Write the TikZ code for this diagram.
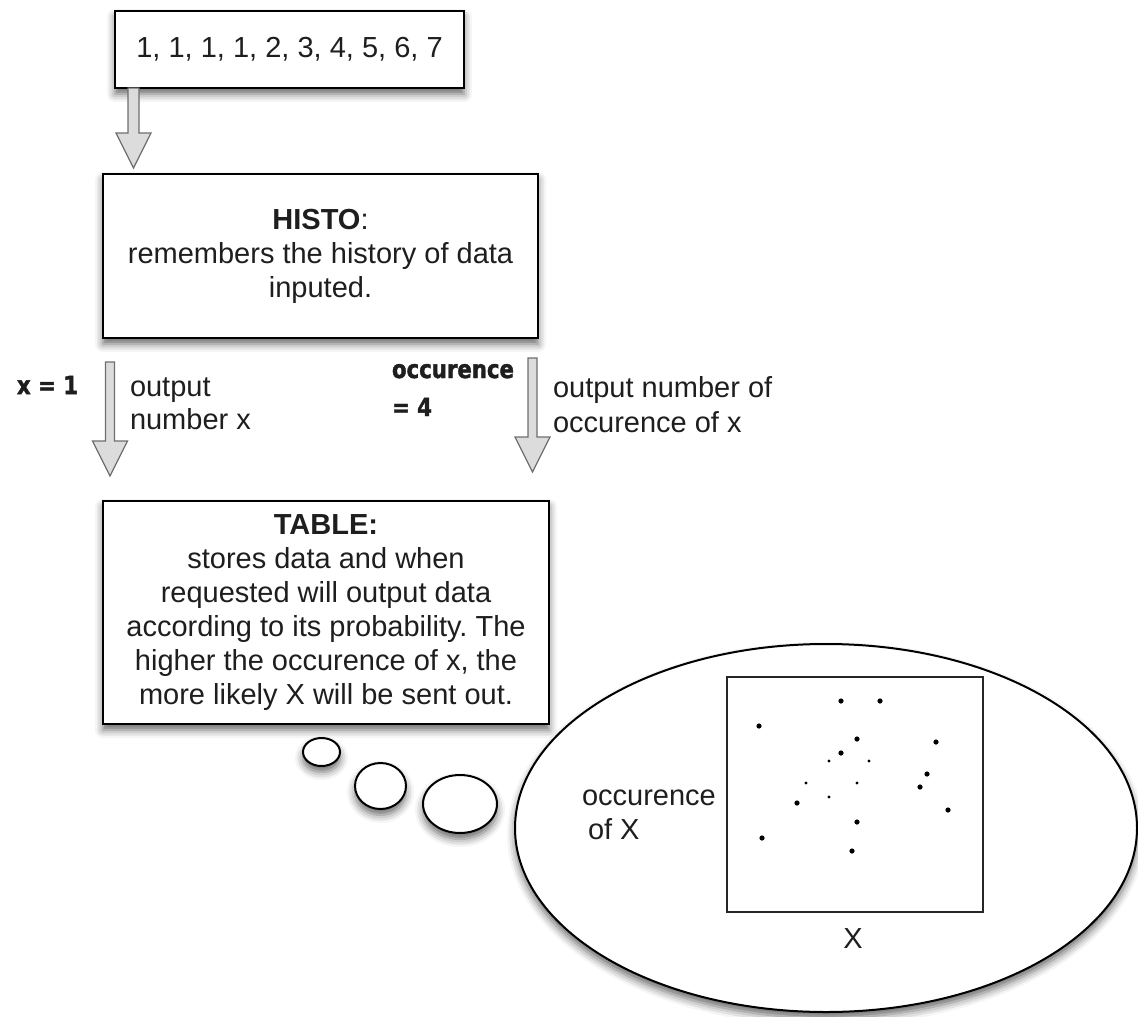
\documentclass[tikz,border=0pt]{standalone}
\usepackage{fontspec}
\setmainfont{Liberation Sans}
\newfontfamily\heavyfont[FakeStretch=0.85,FakeBold=1.6]{DejaVu Sans}
\usetikzlibrary{calc,shapes.geometric,shadows.blur}

\definecolor{inkcol}{HTML}{1E1E1E}
\definecolor{arrowline}{HTML}{6E6E6E}
\definecolor{arrowfill}{HTML}{DCDCDC}

\begin{document}
\frenchspacing
\begin{tikzpicture}[x=1pt,y=-1pt,
  every node/.style={text=inkcol, inner sep=0pt, outer sep=0pt},
  body/.style={font=\fontsize{29}{34}\selectfont},
  heavy/.style={font=\heavyfont\bfseries\fontsize{25}{38}\selectfont},
  softshadow/.style={blur shadow={shadow xshift=0pt, shadow yshift=-6pt,
      shadow blur radius=8pt, shadow opacity=60}},
  box/.style={draw=black, line width=2pt, fill=white, softshadow, body, align=center},
  bubble/.style={ellipse, draw=black, line width=2pt, fill=white, softshadow},
  plotframe/.style={draw=black!85, line width=1.8pt, fill=white},
  bigdot/.style={fill=black, radius=2.6pt},
  smalldot/.style={fill=black, radius=1.6pt},
  blockarrow/.style={draw=arrowline, line width=1.3pt, fill=arrowfill, line join=miter,
    to path={let \p1=(\tikztostart), \p2=(\tikztotarget) in
      (\x1-#1,\y1) -- (\x1-#1,\y2+35pt) -- (\x1-17.5pt,\y2+35pt) -- (\x2,\y2)
      -- (\x1+17.5pt,\y2+35pt) -- (\x1+#1,\y2+35pt) -- (\x1+#1,\y1) -- cycle}},
  blockarrow/.default=4.5pt
]
\useasboundingbox (0,0) rectangle (1138,1017);

% boxes of the pipeline
\node[box, minimum width=349, minimum height=77] (input) at (289.5,49.5)
  {1, 1, 1, 1, 2, 3, 4, 5, 6, 7};
\node[box, minimum width=435, minimum height=164] (histo) at (320.5,256)
  {\textbf{HISTO}:\\remembers the history of data\\inputed.};
\node[box, minimum width=446, minimum height=223] (table) at (326,612.5)
  {\textbf{TABLE:}\\stores data and when\\requested will output data\\according to its probability. The\\higher the occurence of x, the\\more likely X will be sent out.};

% block arrows between the boxes
\coordinate (a1s) at ($(input.south west)+(18.5,0)$);
\coordinate (a1e) at ($(a1s |- histo.north)+(0,-6)$);
\coordinate (a2s) at ($(histo.south west)+(7,24)$);
\coordinate (a2e) at ($(a2s |- table.north)+(0,-25)$);
\coordinate (a3s) at ($(histo.south east)+(-5.5,20)$);
\coordinate (a3e) at ($(a3s |- table.north)+(0,-29)$);
\draw[blockarrow=5.5pt] (a1s) to (a1e);
\draw[blockarrow] (a2s) to (a2e);
\draw[blockarrow] (a3s) to (a3e);

% arrow labels
\node[heavy] (xval) at (47.5,385) {x = 1};
\node[body, align=left, anchor=west, font=\fontsize{29}{33}\selectfont] (outx) at (130,403.5)
  {output\\number x};
\node[heavy, align=left, anchor=west] (occval) at (392,390) {occurence\\= 4};
\node[body, align=left, anchor=west, font=\fontsize{29}{35}\selectfont] (outocc) at (553,404.5)
  {output number of\\occurence of x};

% thought bubbles
\node[bubble, minimum width=37, minimum height=28] (b1) at (321.5,752) {};
\node[bubble, minimum width=51, minimum height=46] (b2) at (380.5,786) {};
\node[bubble, minimum width=74, minimum height=58] (b3) at (460,804) {};
\node[bubble, minimum width=622, minimum height=368] (thought) at (826,828) {};

% scatter plot inside the thought
\node[plotframe, minimum width=256, minimum height=235] (plot) at (855,794.5) {};
\node[body, align=left, anchor=west, font=\fontsize{29}{34}\selectfont] (ylab) at (582,815)
  {occurence\\\hspace*{6pt}of X};
\node[body] (xlab) at (853,939) {X};

\foreach \px/\py in {841/701, 880/701, 759/726, 857/739, 936/742, 841/753,
                     927/774, 920/787, 797/803, 948/810, 857/822, 762/838, 852/851}
  \fill[bigdot] (\px,\py) circle;
\foreach \px/\py in {829/761, 869/761, 806/783, 857/783, 829/797}
  \fill[smalldot] (\px,\py) circle;
\end{tikzpicture}
\end{document}
